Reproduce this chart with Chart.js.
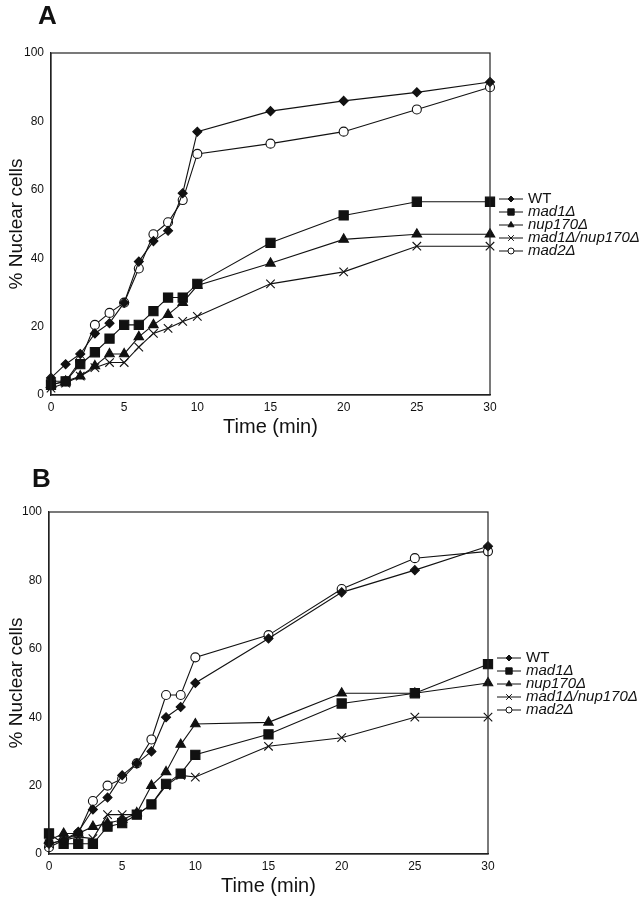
<!DOCTYPE html>
<html>
<head>
<meta charset="utf-8">
<script src="https://cdn.jsdelivr.net/npm/chart.js@4.4.1/dist/chart.umd.min.js"></script>
<style>
    html, body { margin: 0; padding: 0; background: #fff; }
    body { width: 642px; height: 899px; position: relative; overflow: hidden; }
    .panel { position: absolute; left: 0; width: 642px; height: 440px; }
</style>
</head>
<body>
<div class="panel" style="top:0"><canvas id="chartA" width="642" height="440"></canvas></div>
<div class="panel" style="top:459px"><canvas id="chartB" width="642" height="440"></canvas></div>
<script>
// Sampling times (min)
const timePoints = [0, 1, 2, 3, 4, 5, 6, 7, 8, 9, 10, 15, 20, 25, 30];
const seriesNames = ['WT', 'mad1Δ', 'nup170Δ', 'mad1Δ/nup170Δ', 'mad2Δ'];
const xTicks = [0, 5, 10, 15, 20, 25, 30];
const yTicks = [0, 20, 40, 60, 80, 100];

// Panel A — % nuclear cells
const wtA         = [5, 9, 12, 18, 21, 27, 39, 45, 48, 59, 77, 83, 86, 88.5, 91.5];
const mad1A       = [3, 4, 9, 12.5, 16.5, 20.5, 20.5, 24.5, 28.5, 28.5, 32.5, 44.5, 52.5, 56.5, 56.5];
const nup170A     = [3, 4, 5.5, 8.5, 12, 12, 17, 20.5, 23.5, 27, 32, 38.5, 45.5, 47, 47];
const mad1nup170A = [2, 3.5, 5.5, 8, 9.5, 9.5, 14, 18, 19.5, 21.5, 23, 32.5, 36, 43.5, 43.5];
const mad2A       = [4, 4, 10, 20.5, 24, 27, 37, 47, 50.5, 57, 70.5, 73.5, 77, 83.5, 90];

// Panel B — % nuclear cells
const wtB         = [3, 4, 6.5, 13, 16.5, 23, 26.5, 30, 40, 43, 50, 63, 76.5, 83, 90];
const mad1B       = [6, 3, 3, 3, 8, 9, 11.5, 14.5, 20.5, 23.5, 29, 35, 44, 47, 55.5];
const nup170B     = [4, 6, 6, 8, 9, 10, 12, 20, 24, 32, 38, 38.5, 47, 47, 50];
const mad1nup170B = [3, 4, 5, 4.5, 11.5, 11.5, 11.5, 14.5, 20, 23, 22.5, 31.5, 34, 40, 40];
const mad2B       = [2, 4, 6, 15.5, 20, 22, 26.5, 33.5, 46.5, 46.5, 57.5, 64, 77.5, 86.5, 88.5];

const INK = '#111';
const FONT = '"Liberation Sans", Arial, sans-serif';

// marker style per series: [pointStyle, radius, legendRadius, fill]
const MARKERS = [
    ['rectRot', 4.5, 3, INK],
    ['rect', 6.5, 4.5, INK],
    ['triangle', 5.5, 3.5, INK],
    ['crossRot', 6, 4, INK],
    ['circle', 4.5, 3, '#fff'],
];

Chart.defaults.font.family = FONT;
Chart.defaults.color = INK;

// Draws the closed frame, the side legend and the panel letter
const frameAndLegend = {
    id: 'frameAndLegend',
    afterDraw(chart, args, opts) {
        const {ctx, chartArea: a} = chart;
        ctx.save();
        ctx.strokeStyle = '#222';
        ctx.lineWidth = 1.2;
        ctx.strokeRect(a.left, a.top, a.right - a.left, a.bottom - a.top);

        const x0 = a.right + 9, x1 = a.right + 33, tx = a.right + 38;
        chart.data.datasets.forEach((ds, i) => {
            const y = a.top + 146 + i * 13;
            ctx.strokeStyle = INK;
            ctx.lineWidth = 1;
            ctx.beginPath();
            ctx.moveTo(x0, y);
            ctx.lineTo(x1, y);
            ctx.stroke();
            ctx.fillStyle = MARKERS[i][3];
            Chart.helpers.drawPoint(ctx, {
                pointStyle: MARKERS[i][0],
                radius: MARKERS[i][2],
                rotation: 0,
                borderWidth: 1,
            }, (x0 + x1) / 2, y);
            ctx.fillStyle = INK;
            ctx.font = (i === 0 ? '' : 'italic ') + '15px ' + FONT;
            ctx.textAlign = 'left';
            ctx.textBaseline = 'middle';
            ctx.fillText(ds.label, tx, y);
        });

        ctx.font = 'bold 26px ' + FONT;
        ctx.textBaseline = 'alphabetic';
        ctx.fillText(opts.letter, opts.letterX, opts.letterY);
        ctx.restore();
    },
};

function makePanel(id, seriesValues, panel) {
    const datasets = seriesValues.map((vals, i) => ({
        label: seriesNames[i],
        data: timePoints.map((t, k) => ({x: t, y: vals[k]})),
        borderColor: INK,
        borderWidth: 1.1,
        pointStyle: MARKERS[i][0],
        pointRadius: MARKERS[i][1],
        pointBackgroundColor: MARKERS[i][3],
        pointBorderColor: INK,
        pointBorderWidth: 1.1,
        tension: 0,
        clip: false,
    }));

    return new Chart(document.getElementById(id), {
        type: 'line',
        data: {datasets},
        options: {
            responsive: false,
            animation: false,
            devicePixelRatio: 1,
            layout: {padding: {top: 53, right: panel.padRight, left: 0, bottom: 0}},
            plugins: {
                legend: {display: false},
                tooltip: {enabled: false},
                frameAndLegend: panel,
            },
            scales: {
                x: {
                    type: 'linear',
                    min: 0,
                    max: 30,
                    afterBuildTicks(s) { s.ticks = xTicks.map(v => ({value: v})); },
                    afterFit(s) { s.height = 45; },
                    grid: {display: false, drawTicks: false},
                    border: {display: true, color: '#222', width: 1.2},
                    ticks: {padding: 5, font: {size: 12}, maxRotation: 0},
                    title: {display: true, text: 'Time (min)', font: {size: 20}, padding: {top: 0, bottom: 1}},
                },
                y: {
                    type: 'linear',
                    min: 0,
                    max: 100,
                    afterBuildTicks(s) { s.ticks = yTicks.map(v => ({value: v})); },
                    afterFit(s) { s.width = panel.yWidth; },
                    grid: {display: false, drawTicks: false},
                    border: {display: true, color: '#222', width: 1.2},
                    ticks: {padding: 7, font: {size: 12}},
                    title: {display: true, text: '% Nuclear cells', font: {size: 19}, padding: {top: 5, bottom: 0}},
                },
            },
        },
        plugins: [frameAndLegend],
    });
}

makePanel('chartA', [wtA, mad1A, nup170A, mad1nup170A, mad2A],
    {yWidth: 51, padRight: 152, letter: 'A', letterX: 38, letterY: 24});
makePanel('chartB', [wtB, mad1B, nup170B, mad1nup170B, mad2B],
    {yWidth: 49, padRight: 154, letter: 'B', letterX: 32, letterY: 28});
</script>
</body>
</html>
